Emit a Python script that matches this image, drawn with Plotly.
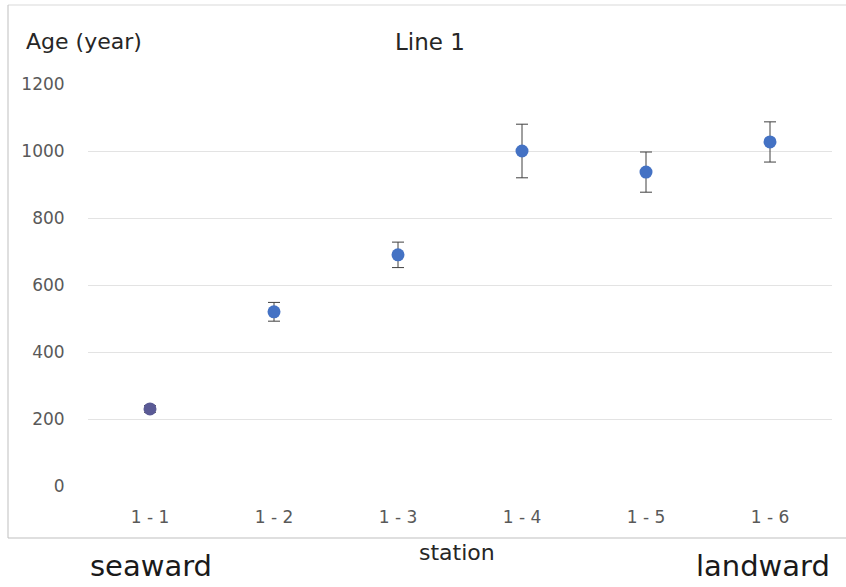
import plotly.graph_objects as go

stations = ["1 - 1", "1 - 2", "1 - 3", "1 - 4", "1 - 5", "1 - 6"]
age = [230, 520, 690, 1000, 937, 1027]
age_err = [10, 28, 38, 80, 60, 60]
y_ticks = [0, 200, 400, 600, 800, 1000, 1200]

FONT = "'DejaVu Sans', sans-serif"
marker_colors = ["#5a5a95"] + ["#4472C4"] * (len(stations) - 1)

fig = go.Figure()
fig.add_trace(go.Scatter(
    x=stations, y=age, mode="markers",
    marker=dict(color=marker_colors, size=13, line=dict(width=0)),
    error_y=dict(type="data", array=age_err, visible=True,
                 color="#404040", thickness=1, width=6),
    showlegend=False,
))

L, R, T, B = 88, 14, 84, 101
W, H = 846, 587
pw, ph = W - L - R, H - T - B

def px(x):
    return (x - L) / pw

def py(y):
    return (H - B - y) / ph

shapes = [
    dict(type="line", xref="paper", yref="paper", x0=px(8), x1=px(846), y0=py(5), y1=py(5),
         line=dict(color="#d9d9d9", width=1)),
    dict(type="line", xref="paper", yref="paper", x0=px(8), x1=px(8), y0=py(5), y1=py(538),
         line=dict(color="#bfbfbf", width=1)),
    dict(type="line", xref="paper", yref="paper", x0=px(8), x1=px(846), y0=py(538), y1=py(538),
         line=dict(color="#bfbfbf", width=1)),
]

annotations = [
    dict(text="Age (year)", x=px(24), y=py(42), xref="paper", yref="paper",
         xanchor="left", yanchor="middle", showarrow=False,
         font=dict(family=FONT, size=22, color="#262626")),
    dict(text="Line 1", x=px(430), y=py(42), xref="paper", yref="paper",
         xanchor="center", yanchor="middle", showarrow=False,
         font=dict(family=FONT, size=23, color="#262626")),
    dict(text="station", x=px(457), y=py(552), xref="paper", yref="paper",
         xanchor="center", yanchor="middle", showarrow=False,
         font=dict(family=FONT, size=22, color="#262626")),
    dict(text="seaward", x=px(151), y=py(566), xref="paper", yref="paper",
         xanchor="center", yanchor="middle", showarrow=False,
         font=dict(family=FONT, size=29, color="#1a1a1a")),
    dict(text="landward", x=px(763), y=py(566), xref="paper", yref="paper",
         xanchor="center", yanchor="middle", showarrow=False,
         font=dict(family=FONT, size=29, color="#1a1a1a")),
]

fig.update_layout(
    width=W, height=H,
    margin=dict(l=L, r=R, t=T, b=B, pad=0),
    paper_bgcolor="white", plot_bgcolor="white",
    font=dict(family=FONT, color="#595959"),
    shapes=shapes, annotations=annotations,
    xaxis=dict(type="category", range=[-0.5, 5.5], showgrid=False, zeroline=False,
               showline=False, ticks="outside", ticklen=16, tickcolor="rgba(0,0,0,0)",
               tickfont=dict(size=17, color="#595959", family=FONT)),
    yaxis=dict(range=[0, 1200], tickvals=y_ticks, showgrid=True, gridcolor="#e3e3e3",
               gridwidth=1, zeroline=False, showline=False, ticks="outside", ticklen=19,
               tickcolor="rgba(0,0,0,0)",
               tickfont=dict(size=17, color="#595959", family=FONT)),
)

fig.write_html("out.html",
               config={"displayModeBar": False},
               post_script="document.body.style.margin='0';document.body.style.overflow='hidden';")
